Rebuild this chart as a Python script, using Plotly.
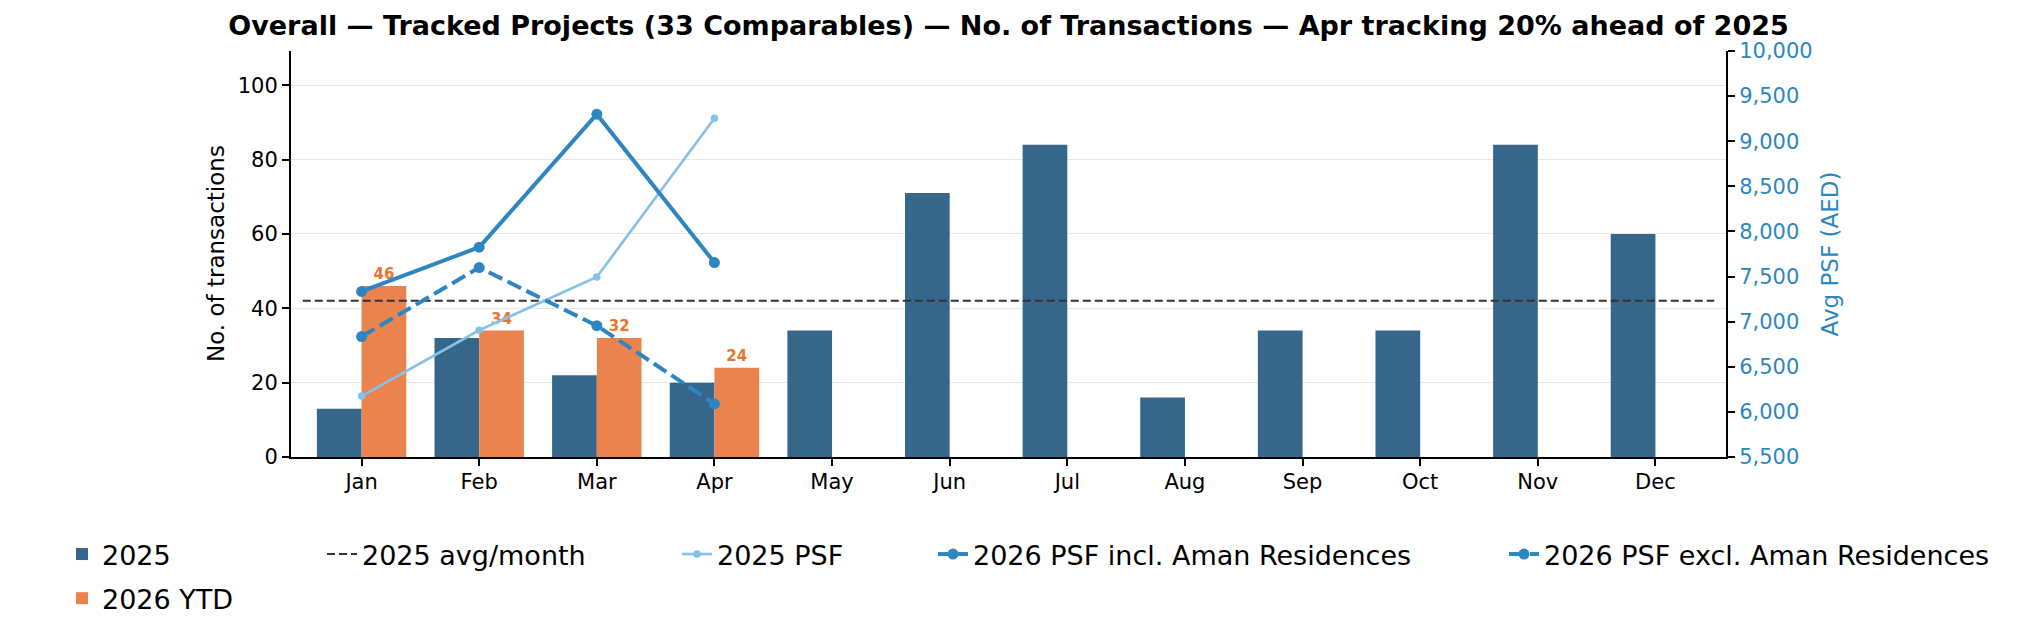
import plotly.graph_objects as go

# monthly transaction counts
months = ["Jan", "Feb", "Mar", "Apr", "May", "Jun", "Jul", "Aug", "Sep", "Oct", "Nov", "Dec"]
tx_2025 = [13, 32, 22, 20, 34, 71, 84, 16, 34, 34, 84, 60]
tx_2026_ytd = [46, 34, 32, 24]

# average price per sq ft (AED)
psf_2025 = [6175, 6905, 7495, 9255]
psf_2026_incl = [7335, 7825, 9300, 7655]
psf_2026_excl = [6835, 7600, 6955, 6090]

avg_2025 = sum(tx_2025) / len(tx_2025)
x_idx = list(range(len(months)))

FONT = "DejaVu Sans"
BLUE = "#2E86C1"
LIGHT = "#85C1E9"

# page body keeps an 8px margin, so the figure is sized to fit inside it
W, H = 2001, 622

fig = go.Figure()

fig.add_trace(go.Bar(
    x=x_idx, y=tx_2025, name="2025",
    marker=dict(color="#36678A", line=dict(width=0)),
    legend="legend", legendgroup="a"))

fig.add_trace(go.Bar(
    x=x_idx[:len(tx_2026_ytd)], y=tx_2026_ytd, name="2026 YTD",
    marker=dict(color="#EB834E", line=dict(width=0)),
    texttemplate="%{y}", textposition="outside", constraintext="none",
    cliponaxis=False,
    textfont=dict(family=FONT, size=15, color="#E8742F", weight="bold"),
    legend="legend", legendgroup="b"))

fig.add_trace(go.Scatter(
    x=[-0.5, 11.5], y=[avg_2025, avg_2025], mode="lines",
    name="2025 avg/month",
    line=dict(color="#333333", width=2, dash="8px,4px"),
    legend="legend2"))

fig.add_trace(go.Scatter(
    x=x_idx[:len(psf_2025)], y=psf_2025, mode="lines+markers",
    name="2025 PSF", yaxis="y2",
    line=dict(color=LIGHT, width=2.7), marker=dict(size=7.5, color=LIGHT),
    legend="legend3"))

fig.add_trace(go.Scatter(
    x=x_idx[:len(psf_2026_incl)], y=psf_2026_incl, mode="lines+markers",
    name="2026 PSF incl. Aman Residences", yaxis="y2",
    line=dict(color=BLUE, width=4), marker=dict(size=11, color=BLUE),
    legend="legend4"))

fig.add_trace(go.Scatter(
    x=x_idx[:len(psf_2026_excl)], y=psf_2026_excl, mode="lines+markers",
    name="2026 PSF excl. Aman Residences", yaxis="y2",
    line=dict(color=BLUE, width=4, dash="15px,6px"), marker=dict(size=11, color=BLUE),
    legend="legend5"))

leg_font = dict(family=FONT, size=27, color="black")
def legend_at(px, vertical=False):
    return dict(x=px / W, xref="container", xanchor="left",
                y=1 - 522 / H, yref="container", yanchor="top",
                orientation="v" if vertical else "h",
                font=leg_font, bgcolor="rgba(0,0,0,0)",
                tracegroupgap=6)

fig.update_layout(
    width=W, height=H, autosize=False,
    paper_bgcolor="white", plot_bgcolor="white",
    margin=dict(l=283, r=283, t=43, b=173, autoexpand=False),
    font=dict(family=FONT, size=21, color="black"),
    title=dict(
        text="<b>Overall — Tracked Projects (33 Comparables) — No. of Transactions — Apr tracking 20% ahead of 2025</b>",
        x=0.5, xref="paper", xanchor="center",
        y=1 - 18 / H, yref="container", yanchor="middle",
        font=dict(family=FONT, size=27, color="black")),
    barmode="group", bargap=0.24, bargroupgap=0,
    xaxis=dict(
        range=[-0.6, 11.6], tickmode="array", tickvals=x_idx, ticktext=months,
        showgrid=False, zeroline=False,
        showline=True, linecolor="black", linewidth=2,
        ticks="outside", ticklen=7, tickwidth=1.5, tickcolor="black",
        ticklabelstandoff=-2,
        tickfont=dict(family=FONT, size=21, color="black")),
    yaxis=dict(
        range=[0, 109.2], dtick=20, tick0=0,
        showgrid=True, gridcolor="#E6E6E6", gridwidth=1, zeroline=False,
        showline=True, linecolor="black", linewidth=2,
        ticks="outside", ticklen=7, tickwidth=1.5, tickcolor="black",
        tickfont=dict(family=FONT, size=21, color="black")),
    yaxis2=dict(
        overlaying="y", side="right", range=[5500, 10000], dtick=500, tick0=5500,
        tickformat=",d", showgrid=False, zeroline=False,
        showline=True, linecolor="black", linewidth=2,
        ticks="outside", ticklen=7, tickwidth=1.5, tickcolor="black",
        tickfont=dict(family=FONT, size=21, color=BLUE),
        title=dict(text="Avg PSF (AED)", font=dict(family=FONT, size=23, color=BLUE), standoff=10)),
    annotations=[dict(
        text="No. of transactions", textangle=-90,
        x=0, xref="paper", xanchor="center", xshift=-75,
        y=0.5, yref="paper", yanchor="middle",
        showarrow=False, font=dict(family=FONT, size=23, color="black"))],
    legend=legend_at(54, vertical=True),
    legend2=legend_at(314),
    legend3=legend_at(669),
    legend4=legend_at(925),
    legend5=legend_at(1496),
)

fig.write_html("out.html")
